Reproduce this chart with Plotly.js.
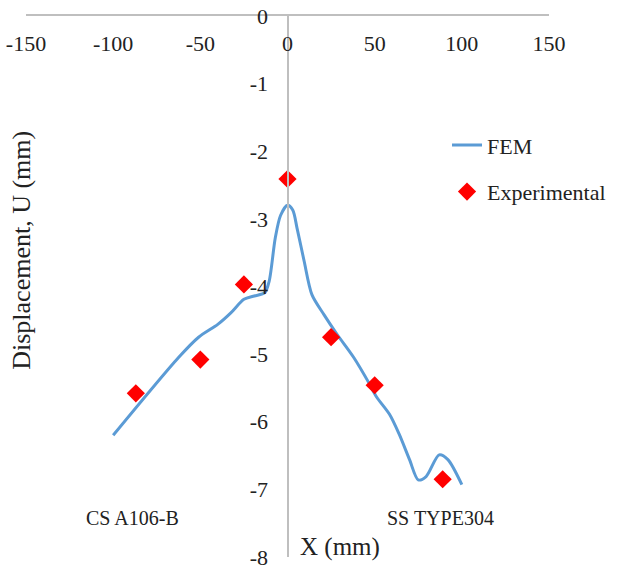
<!DOCTYPE html>
<html>
<head>
<meta charset="utf-8">
<script src="https://cdn.plot.ly/plotly-3.0.1.min.js"></script>
<style>html,body{margin:0;padding:0;background:#fff;}#chart{width:623px;height:569px;}</style>
</head>
<body>
<div id="chart"></div>
<script>
// FEM curve
const femX = [-100, -62.5, -51, -40, -32.5, -25, -19, -13, -10.5, -7, -4, 0, 3, 5.5, 9.5, 14, 21, 28.5, 38, 47, 51, 58.5, 64, 70, 75, 79.5, 87, 92, 100];
const femY = [-6.2, -5.05, -4.75, -4.56, -4.39, -4.19, -4.14, -4.09, -3.92, -3.28, -2.95, -2.80, -2.87, -3.14, -3.62, -4.12, -4.42, -4.71, -5.05, -5.44, -5.63, -5.89, -6.18, -6.56, -6.86, -6.81, -6.49, -6.56, -6.93];
// Experimental points
const expX = [-87, -50, -25, 0, 25, 50, 89];
const expY = [-5.58, -5.08, -3.97, -2.41, -4.75, -5.46, -6.85];
// Tick values and labels
const xTicks = [-150, -100, -50, 0, 50, 100, 150];
const xTickText = ['-150', '-100', '-50', '0', '50', '100', '150'];
const yTicks = [-8, -7, -6, -5, -4, -3, -2, -1, 0];
const yTickText = ['-8', '-7', '-6', '-5', '-4', '-3', '-2', '-1', '0'];

const serif = "Liberation Serif, Times New Roman, serif";
const data = [
  {x: femX, y: femY, type: 'scatter', mode: 'lines', name: 'FEM', legendgroup: 'a',
   line: {color: '#5b9bd5', width: 3, shape: 'spline', smoothing: 0.8}},
  {x: expX, y: expY, type: 'scatter', mode: 'markers', name: 'Experimental', legendgroup: 'b',
   marker: {symbol: 'diamond', color: '#ff0000', size: 14}}
];
const layout = {
  width: 623, height: 569,
  margin: {l: 26, r: 69, t: 16, b: 12},
  paper_bgcolor: '#ffffff', plot_bgcolor: '#ffffff',
  font: {family: serif, size: 20, color: '#222'},
  showlegend: true,
  legend: {x: 0.805, y: 0.80, xanchor: 'left', yanchor: 'top', bgcolor: 'rgba(0,0,0,0)',
           font: {family: serif, size: 22, color: '#222'}, tracegroupgap: 15},
  xaxis: {range: [-150, 150], tickvals: xTicks, ticktext: xTickText, side: 'top', showline: true, linecolor: '#bfbfbf', linewidth: 2,
          showgrid: false, zeroline: false, ticks: '', ticklabelposition: 'inside', ticklabelstandoff: 21,
          ticklabeloverflow: 'allow', tickfont: {family: serif, size: 22, color: '#222'}},
  yaxis: {range: [-8, 0], tickvals: yTicks, ticktext: yTickText, anchor: 'free', position: 0.5, showline: true, linecolor: '#bfbfbf', linewidth: 2,
          showgrid: false, zeroline: false, ticks: '', ticklabelstandoff: 14,
          ticklabeloverflow: 'allow', tickfont: {family: serif, size: 22, color: '#222'}},
  annotations: [
    {text: 'Displacement, U (mm)', xref: 'paper', yref: 'y', x: -0.008, y: -3.46, textangle: -90,
     showarrow: false, font: {family: serif, size: 26, color: '#222'}, xanchor: 'center', yanchor: 'middle'},
    {text: 'X (mm)', xref: 'x', yref: 'y', x: 30, y: -7.85, showarrow: false,
     font: {family: serif, size: 25, color: '#222'}},
    {text: 'CS A106-B', xref: 'x', yref: 'y', x: -89, y: -7.43, showarrow: false,
     font: {family: serif, size: 20, color: '#222'}},
    {text: 'SS TYPE304', xref: 'x', yref: 'y', x: 88, y: -7.43, showarrow: false,
     font: {family: serif, size: 20, color: '#222'}}
  ]
};
Plotly.newPlot('chart', data, layout, {displayModeBar: false, staticPlot: true});
</script>
</body>
</html>
